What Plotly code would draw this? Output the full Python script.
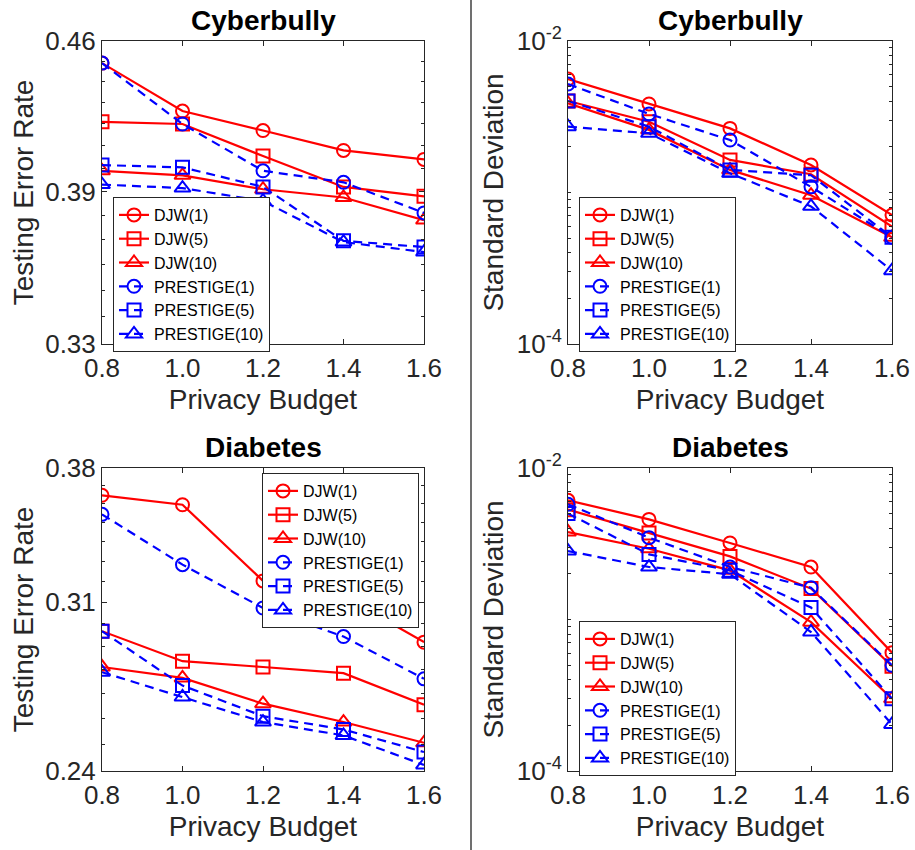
import plotly.graph_objects as go
import numpy as np

# ---------------- data ----------------
budget = [0.8, 1.0, 1.2, 1.4, 1.6]
series_names = ["DJW(1)", "DJW(5)", "DJW(10)", "PRESTIGE(1)", "PRESTIGE(5)", "PRESTIGE(10)"]

cyber_err_djw1 = [0.449, 0.426, 0.417, 0.408, 0.404]
cyber_err_djw5 = [0.421, 0.420, 0.4055, 0.392, 0.388]
cyber_err_djw10 = [0.399, 0.397, 0.391, 0.3875, 0.378]
cyber_err_pr1 = [0.449, 0.420, 0.399, 0.394, 0.381]
cyber_err_pr5 = [0.4015, 0.4005, 0.392, 0.3695, 0.367]
cyber_err_pr10 = [0.393, 0.3915, 0.386, 0.369, 0.365]

cyber_sd_djw1 = [5.61e-3, 3.84e-3, 2.65e-3, 1.52e-3, 7.1e-4]
cyber_sd_djw5 = [4.02e-3, 2.93e-3, 1.64e-3, 1.32e-3, 5.95e-4]
cyber_sd_djw10 = [3.88e-3, 2.59e-3, 1.41e-3, 9.6e-4, 5.06e-4]
cyber_sd_pr1 = [5.2e-3, 3.3e-3, 2.22e-3, 1.09e-3, 5.06e-4]
cyber_sd_pr5 = [4.02e-3, 2.72e-3, 1.41e-3, 1.30e-3, 5.06e-4]
cyber_sd_pr10 = [2.72e-3, 2.46e-3, 1.34e-3, 8.1e-4, 3.05e-4]

diab_err_djw1 = [0.3646, 0.3594, 0.3202, 0.3128, 0.2918]
diab_err_djw5 = [0.2967, 0.2835, 0.2810, 0.2784, 0.2654]
diab_err_djw10 = [0.2810, 0.2764, 0.2658, 0.2585, 0.2505]
diab_err_pr1 = [0.3542, 0.3282, 0.3073, 0.2943, 0.2760]
diab_err_pr5 = [0.2967, 0.2732, 0.2608, 0.2556, 0.2470]
diab_err_pr10 = [0.2788, 0.2685, 0.2585, 0.2533, 0.2422]

diab_sd_djw1 = [6.12e-3, 4.58e-3, 3.20e-3, 2.22e-3, 6.04e-4]
diab_sd_djw5 = [5.31e-3, 3.72e-3, 2.61e-3, 1.60e-3, 4.91e-4]
diab_sd_djw10 = [3.78e-3, 2.93e-3, 2.11e-3, 9.6e-4, 3.0e-4]
diab_sd_pr1 = [5.76e-3, 3.47e-3, 2.22e-3, 1.62e-3, 4.98e-4]
diab_sd_pr5 = [5.0e-3, 2.69e-3, 2.11e-3, 1.20e-3, 3.0e-4]
diab_sd_pr10 = [2.83e-3, 2.22e-3, 1.99e-3, 8.27e-4, 2.03e-4]

x_ticks = [0.8, 1.0, 1.2, 1.4, 1.6]
x_ticktext = ["0.8", "1.0", "1.2", "1.4", "1.6"]
cyber_err_ticks = [0.33, 0.39, 0.46]
diab_err_ticks = [0.24, 0.31, 0.38]
sd_ticks = [1e-4, 1e-2]
sd_ticktext = ["10<sup>-4</sup>", "10<sup>-2</sup>"]

panel_titles = ["Cyberbully", "Cyberbully", "Diabetes", "Diabetes"]
y_titles = ["Testing Error Rate", "Standard Deviation", "Testing Error Rate", "Standard Deviation"]
x_title = "Privacy Budget"

# ---------------- styling ----------------
W, H = 915, 850
FONT = "Liberation Sans, Arial, Helvetica, sans-serif"
AX = "#262626"
styles = [
    dict(color="#ff0000", symbol="circle-open", dash="solid"),
    dict(color="#ff0000", symbol="square-open", dash="solid"),
    dict(color="#ff0000", symbol="triangle-up-open", dash="solid"),
    dict(color="#0000ff", symbol="circle-open", dash="9px,6px"),
    dict(color="#0000ff", symbol="square-open", dash="9px,6px"),
    dict(color="#0000ff", symbol="triangle-up-open", dash="9px,6px"),
]

panels = [
    [cyber_err_djw1, cyber_err_djw5, cyber_err_djw10, cyber_err_pr1, cyber_err_pr5, cyber_err_pr10],
    [cyber_sd_djw1, cyber_sd_djw5, cyber_sd_djw10, cyber_sd_pr1, cyber_sd_pr5, cyber_sd_pr10],
    [diab_err_djw1, diab_err_djw5, diab_err_djw10, diab_err_pr1, diab_err_pr5, diab_err_pr10],
    [diab_sd_djw1, diab_sd_djw5, diab_sd_djw10, diab_sd_pr1, diab_sd_pr5, diab_sd_pr10],
]

# plot-area pixel boxes (left, right, top, bottom)
boxes = [(102, 424, 41, 344), (568, 892, 41, 344), (102, 424, 468, 771), (568, 892, 468, 771)]
legend_pos = [(113, 197), (579, 197), (262, 473), (579, 621)]

fig = go.Figure()
layout = dict(width=W, height=H, margin=dict(l=0, r=0, t=0, b=0),
              paper_bgcolor="white", plot_bgcolor="white", showlegend=True,
              font=dict(family=FONT, color=AX))

annotations = []
for p in range(4):
    sfx = "" if p == 0 else str(p + 1)
    lg = "legend" + sfx
    for s in range(6):
        st = styles[s]
        fig.add_trace(go.Scatter(
            x=budget, y=panels[p][s], name=series_names[s], mode="lines+markers",
            xaxis="x" + sfx, yaxis="y" + sfx, legend=lg,
            line=dict(color=st["color"], width=2.2, dash=st["dash"]),
            marker=dict(symbol=st["symbol"], size=13 if "tri" not in st["symbol"] else 14,
                        color=st["color"], line=dict(width=2, color=st["color"])),
        ))
    l, r, t, b = boxes[p]
    xd = [l / W, r / W]
    yd = [1 - b / H, 1 - t / H]
    layout["xaxis" + sfx] = dict(
        domain=xd, range=[0.8, 1.6], tickvals=x_ticks, ticktext=x_ticktext,
        ticks="inside", ticklen=5, tickcolor=AX, showline=True, linecolor=AX, linewidth=1,
        mirror="ticks", showgrid=False, zeroline=False, anchor="y" + sfx,
        tickfont=dict(size=26, color=AX, family=FONT), ticklabelstandoff=1,
        title=dict(text=x_title, font=dict(size=28, color=AX, family=FONT), standoff=7),
        automargin=False,
    )
    if p in (0, 2):
        tv = cyber_err_ticks if p == 0 else diab_err_ticks
        lo, hi = tv[0], tv[-1]
        minor_vals = [round(v, 2) for v in np.arange(lo, hi + 1e-9, 0.01)]
        layout["yaxis" + sfx] = dict(
            domain=yd, type="log", range=[np.log10(lo), np.log10(hi)],
            tickvals=tv, ticktext=["%.2f" % v for v in tv],
            minor=dict(tickvals=minor_vals, ticks="inside", ticklen=3, tickcolor=AX),
            ticks="inside", ticklen=5, tickcolor=AX, showline=True, linecolor=AX, linewidth=1,
            mirror="ticks", showgrid=False, zeroline=False, anchor="x" + sfx,
            tickfont=dict(size=26, color=AX, family=FONT),
            title=dict(text=y_titles[p], font=dict(size=28, color=AX, family=FONT), standoff=3),
            automargin=False,
        )
    else:
        minor_vals = [m * 10.0 ** e for e in (-4, -3) for m in range(2, 10)] + [1e-3]
        layout["yaxis" + sfx] = dict(
            domain=yd, type="log", range=[-4, -2],
            tickvals=sd_ticks, ticktext=sd_ticktext,
            minor=dict(tickvals=minor_vals, ticks="inside", ticklen=3, tickcolor=AX),
            ticks="inside", ticklen=5, tickcolor=AX, showline=True, linecolor=AX, linewidth=1,
            mirror="ticks", showgrid=False, zeroline=False, anchor="x" + sfx,
            tickfont=dict(size=26, color=AX, family=FONT),
            title=dict(text=y_titles[p], font=dict(size=28, color=AX, family=FONT), standoff=4),
            automargin=False,
        )
    lx, ly = legend_pos[p]
    layout[lg] = dict(
        x=lx / W, y=1 - ly / H, xanchor="left", yanchor="top", xref="paper", yref="paper",
        bgcolor="white", bordercolor="#262626", borderwidth=1,
        font=dict(size=16, color="#000000", family=FONT), tracegroupgap=0,
        itemwidth=30,
    )
    annotations.append(dict(
        text="<b>%s</b>" % panel_titles[p], x=(l + r) / 2 / W, y=1 - (t - 21) / H,
        xref="paper", yref="paper", xanchor="center", yanchor="middle", showarrow=False,
        font=dict(size=28, color="#000000", family=FONT),
    ))

layout["annotations"] = annotations
layout["shapes"] = [dict(type="line", xref="paper", yref="paper", x0=471 / W, x1=471 / W,
                         y0=0, y1=1, line=dict(color="#404040", width=1.5))]
fig.update_layout(**layout)
fig.write_html("out.html", config={"displayModeBar": False},
               post_script="document.body.style.margin='0px';")
